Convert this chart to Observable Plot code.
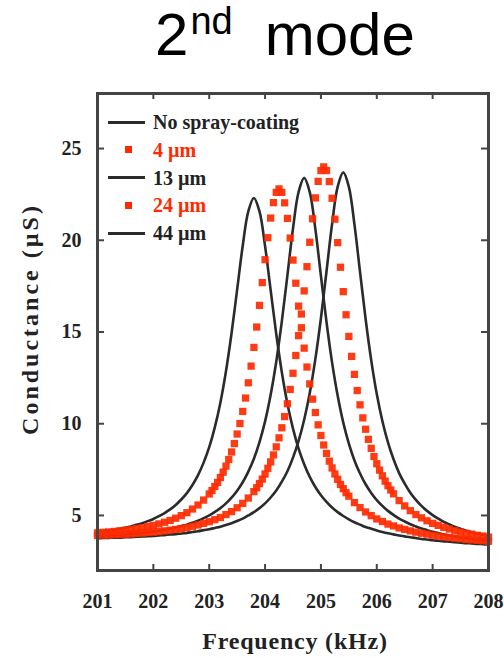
<!DOCTYPE html>
<html>
<head>
<meta charset="utf-8">
<script src="https://cdn.jsdelivr.net/npm/d3@7"></script>
<script src="https://cdn.jsdelivr.net/npm/@observablehq/plot@0.6"></script>
<style>
  body { margin: 0; background: #fff; }
  #wrap { position: relative; width: 504px; height: 658px; overflow: hidden; background: #fff; }
  #title { position: absolute; left: 155px; top: 5px; white-space: nowrap;
           font-family: "Liberation Sans", Arial, sans-serif; font-size: 60px; line-height: 60px; color: #000; }
  #title .sup { font-size: 38px; position: relative; top: -21px; margin-left: 2px; margin-right: 32px; }
  #chart { position: absolute; left: 0; top: 80px; }
  .leg { position: absolute; font-family: "Liberation Serif", "Times New Roman", serif; font-weight: bold;
         font-size: 20px; line-height: 20px; white-space: nowrap; }
  .legline { position: absolute; height: 3px; background: #2b2b2b; }
  .legdot { position: absolute; width: 7px; height: 7px; background: #ff2a00; }
</style>
</head>
<body>
<div id="wrap">
  <div id="title">2<span class="sup">nd</span>mode</div>
  <div id="chart"></div>
</div>
<script>
// ---------- data ----------
const seriesNames = ["No spray-coating", "4 µm", "13 µm", "24 µm", "44 µm"];
const seriesKinds = ["line", "dots", "line", "dots", "line"];

const xTicks = [201, 202, 203, 204, 205, 206, 207, 208];
const yTicks = [5, 10, 15, 20, 25];

const freqLine = [201,201.1,201.2,201.3,201.4,201.5,201.6,201.7,201.8,201.9,
  202,202.1,202.2,202.3,202.4,202.5,202.6,202.7,202.8,202.9,
  203,203.1,203.2,203.3,203.4,203.5,203.6,203.7,203.8,203.9,
  204,204.1,204.2,204.3,204.4,204.5,204.6,204.7,204.8,204.9,
  205,205.1,205.2,205.3,205.4,205.5,205.6,205.7,205.8,205.9,
  206,206.1,206.2,206.3,206.4,206.5,206.6,206.7,206.8,206.9,
  207,207.1,207.2,207.3,207.4,207.5,207.6,207.7,207.8,207.9,208];

const noSpray = [3.76,3.77,3.78,3.79,3.79,3.81,3.82,3.84,3.85,3.87,
  3.88,3.91,3.93,3.96,3.98,4.02,4.05,4.10,4.14,4.20,
  4.25,4.32,4.39,4.48,4.58,4.70,4.83,5.00,5.18,5.40,
  5.66,5.98,6.36,6.84,7.41,8.15,9.06,10.22,11.68,13.52,
  15.75,18.31,20.89,22.92,23.70,22.91,20.87,18.28,15.71,13.47,
  11.62,10.15,8.98,8.06,7.31,6.73,6.24,5.85,5.52,5.25,
  5.02,4.83,4.65,4.51,4.38,4.27,4.17,4.09,4.01,3.95,3.88];

const um13 = [3.86,3.88,3.89,3.92,3.93,3.96,3.98,4.01,4.04,4.08,
  4.12,4.17,4.21,4.28,4.34,4.42,4.50,4.60,4.71,4.85,
  5.00,5.19,5.40,5.66,5.97,6.35,6.81,7.39,8.09,9.00,
  10.13,11.58,13.38,15.58,18.09,20.64,22.63,23.40,22.62,20.62,
  18.06,15.54,13.33,11.52,10.06,8.92,8.00,7.29,6.70,6.23,
  5.84,5.52,5.25,5.03,4.83,4.67,4.52,4.40,4.29,4.20,
  4.11,4.04,3.96,3.91,3.85,3.80,3.75,3.71,3.67,3.64,3.60];

const um44 = [4.09,4.13,4.17,4.22,4.27,4.33,4.40,4.49,4.57,4.69,
  4.81,4.96,5.13,5.33,5.57,5.87,6.22,6.66,7.20,7.88,
  8.72,9.80,11.15,12.86,14.93,17.31,19.70,21.58,22.30,21.57,
  19.68,17.28,14.89,12.81,11.09,9.73,8.64,7.79,7.10,6.55,
  6.10,5.74,5.43,5.18,4.97,4.79,4.63,4.50,4.37,4.28,
  4.18,4.10,4.03,3.97,3.91,3.86,3.81,3.77,3.72,3.69,
  3.65,3.62,3.59,3.57,3.54,3.52,3.49,3.48,3.45,3.44,3.42];

const freq4 = [201,201.1,201.2,201.3,201.4,201.5,201.6,201.7,201.8,201.9,
  202,202.1,202.2,202.3,202.4,202.5,202.6,202.7,202.8,202.9,
  203,203.1,203.2,203.3,203.4,203.5,203.6,203.7,203.8,
  203.85,203.9,203.95,204,204.05,204.1,204.15,204.2,204.25,204.3,204.35,204.4,204.45,204.5,204.55,
  204.6,204.65,204.7,204.75,204.8,204.85,204.9,204.95,205,205.05,205.1,205.15,205.2,205.25,205.3,
  205.35,205.4,205.45,205.5,205.55,205.6,205.65,205.7,205.75,205.8,205.85,205.9,205.95,206,206.05,
  206.1,206.15,206.2,206.25,
  206.3,206.4,206.5,206.6,206.7,206.8,206.9,207,207.1,207.2,207.3,207.4,207.5,207.6,207.7,207.8,207.9,208];

const um4 = [3.91,3.93,3.93,3.95,3.96,3.98,3.99,4.02,4.04,4.07,
  4.09,4.12,4.16,4.20,4.24,4.29,4.34,4.41,4.48,4.57,
  4.66,4.77,4.89,5.05,5.21,5.42,5.66,5.95,6.30,
  6.51,6.74,6.98,7.26,7.57,7.92,8.30,8.74,9.23,9.78,10.39,11.09,11.87,12.75,13.72,
  14.80,15.98,17.24,18.56,19.89,21.17,22.31,23.21,23.80,24.00,23.80,23.20,22.29,21.15,19.87,
  18.53,17.20,15.94,14.76,13.67,12.69,11.81,11.03,10.32,9.70,9.15,8.66,8.21,7.82,7.47,
  7.16,6.87,6.62,6.39,
  6.18,5.81,5.52,5.26,5.05,4.87,4.71,4.57,4.46,4.35,4.26,4.17,4.10,4.03,3.98,3.92,3.88,3.82];

const freq24 = [201,201.1,201.2,201.3,201.4,201.5,201.6,201.7,201.8,201.9,
  202,202.1,202.2,202.3,202.4,202.5,202.6,202.7,202.8,202.9,203,
  203.05,203.1,203.15,203.2,203.25,203.3,203.35,203.4,203.45,203.5,203.55,203.6,203.65,203.7,
  203.75,203.8,203.85,203.9,203.95,204,204.05,204.1,204.15,204.2,204.25,204.3,204.35,204.4,204.45,
  204.5,204.55,204.6,204.65,204.7,204.75,204.8,204.85,204.9,204.95,205,205.05,205.1,205.15,205.2,
  205.25,205.3,205.35,205.4,205.45,
  205.5,205.6,205.7,205.8,205.9,206,206.1,206.2,206.3,206.4,206.5,206.6,206.7,206.8,206.9,
  207,207.1,207.2,207.3,207.4,207.5,207.6,207.7,207.8,207.9,208];

const um24 = [4.05,4.08,4.10,4.13,4.16,4.20,4.24,4.29,4.33,4.40,
  4.46,4.54,4.63,4.73,4.85,4.99,5.15,5.35,5.57,5.84,6.17,
  6.36,6.58,6.80,7.07,7.36,7.69,8.05,8.46,8.92,9.44,10.01,10.67,11.40,12.23,
  13.14,14.16,15.27,16.45,17.69,18.94,20.14,21.21,22.05,22.61,22.80,22.61,22.04,21.19,20.12,
  18.92,17.66,16.41,15.23,14.12,13.09,12.17,11.34,10.61,9.94,9.36,8.84,8.38,7.96,7.59,
  7.26,6.97,6.69,6.46,6.24,
  6.05,5.70,5.43,5.19,4.99,4.81,4.67,4.53,4.43,4.32,4.24,4.16,4.09,4.03,3.98,
  3.92,3.88,3.83,3.80,3.76,3.73,3.69,3.67,3.64,3.62,3.59];

// ---------- build tables ----------
function rows(fs, gs, name) {
  if (fs.length !== gs.length) throw new Error(name + " length mismatch " + fs.length + " vs " + gs.length);
  return fs.map((f, i) => ({ f, g: gs[i], s: name }));
}
const dNo = rows(freqLine, noSpray, seriesNames[0]);
const d4 = rows(freq4, um4, seriesNames[1]);
const d13 = rows(freqLine, um13, seriesNames[2]);
const d24 = rows(freq24, um24, seriesNames[3]);
const d44 = rows(freqLine, um44, seriesNames[4]);

const W = 504, H = 578, mT = 13, mB = 88, mL = 97, mR = 16;
const plotW = W - mL - mR, plotH = H - mT - mB;
const lineColor = "#2b2b2b", redColor = "#ff2a00", axisColor = "#444";

const lineOpts = { x: "f", y: "g", stroke: lineColor, strokeWidth: 2.6, curve: "catmull-rom" };
const dotOpts = { x: "f", y: "g", symbol: "square", r: 4.1, fill: redColor, fillOpacity: 0.92, stroke: "none" };

const svg = Plot.plot({
  width: W, height: H,
  marginTop: mT, marginBottom: mB, marginLeft: mL, marginRight: mR,
  style: { fontFamily: "'Liberation Serif', 'Times New Roman', serif", fontWeight: "bold", fontSize: "20px", color: "#222", background: "#fff" },
  x: { domain: [201, 208] },
  y: { domain: [2, 28] },
  marks: [
    Plot.line(dNo, lineOpts),
    Plot.line(d13, lineOpts),
    Plot.line(d44, lineOpts),
    Plot.dot(d4, dotOpts),
    Plot.dot(d24, dotOpts),
    Plot.frame({ stroke: axisColor, strokeWidth: 3 }),
    // inward ticks on all four sides
    Plot.tickX(xTicks, { x: d => d, insetTop: plotH - 6, stroke: axisColor, strokeWidth: 2 }),
    Plot.tickX(xTicks, { x: d => d, insetBottom: plotH - 6, stroke: axisColor, strokeWidth: 2 }),
    Plot.tickY(yTicks, { y: d => d, insetRight: plotW - 7, stroke: axisColor, strokeWidth: 2 }),
    Plot.tickY(yTicks, { y: d => d, insetLeft: plotW - 7, stroke: axisColor, strokeWidth: 2 }),
    Plot.axisX({ ticks: xTicks, tickSize: 0, tickPadding: 23, tickFormat: d => String(d), label: null, fill: "#222" }),
    Plot.axisY({ ticks: yTicks, tickSize: 0, tickPadding: 16, tickFormat: d => String(d), label: null, fill: "#222" }),
    Plot.text(["Frequency (kHz)"], { frameAnchor: "bottom", textAnchor: "middle", dx: 2, dy: 71, lineAnchor: "middle", fontSize: 24, fontWeight: "bold", fill: "#222" }),
    Plot.text(["Conductance (µS)"], { frameAnchor: "left", textAnchor: "middle", dx: -67, dy: -13, rotate: -90, lineAnchor: "middle", fontSize: 24, fontWeight: "bold", fill: "#222" })
  ]
});
d3.select(svg).selectAll("text").filter(function () { return this.textContent === "Conductance (µS)"; })
  .attr("letter-spacing", "3px");
d3.select(svg).selectAll("text").filter(function () { return this.textContent === "Frequency (kHz)"; })
  .attr("letter-spacing", "0.8px");
document.getElementById("chart").appendChild(svg);

// ---------- legend (inside the frame, top-left) ----------
const wrap = document.getElementById("wrap");
seriesNames.forEach((name, i) => {
  const cy = 122 + i * 27.8;
  if (seriesKinds[i] === "line") {
    const l = document.createElement("div");
    l.className = "legline";
    l.style.left = "108px"; l.style.width = "37px"; l.style.top = (cy - 1.5) + "px";
    wrap.appendChild(l);
  } else {
    const dd = document.createElement("div");
    dd.className = "legdot";
    dd.style.left = "125px"; dd.style.top = (cy - 3.5) + "px";
    wrap.appendChild(dd);
  }
  const t = document.createElement("div");
  t.className = "leg";
  t.textContent = name;
  t.style.left = "153px"; t.style.top = (cy - 10) + "px";
  t.style.color = seriesKinds[i] === "line" ? "#222" : redColor;
  wrap.appendChild(t);
});
</script>
</body>
</html>
